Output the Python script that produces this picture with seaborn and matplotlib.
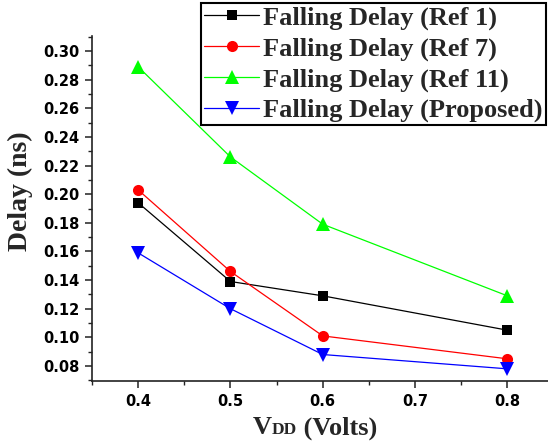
import matplotlib
matplotlib.use("Agg")
import matplotlib.pyplot as plt
from matplotlib.offsetbox import TextArea, HPacker, AnchoredOffsetbox
from matplotlib.ticker import MultipleLocator, FormatStrFormatter
import pandas as pd
import seaborn as sns

# Supply voltages and measured falling delays (ns)
vdd = [0.4, 0.5, 0.6, 0.8]
ref1 = [0.194, 0.139, 0.129, 0.105]
ref7 = [0.203, 0.146, 0.101, 0.085]
ref11 = [0.289, 0.226, 0.179, 0.129]
proposed = [0.159, 0.120, 0.088, 0.078]

series_names = [
    "Falling Delay (Ref 1)",
    "Falling Delay (Ref 7)",
    "Falling Delay (Ref 11)",
    "Falling Delay (Proposed)",
]
series_values = [ref1, ref7, ref11, proposed]
colors = ["#000000", "#ff0000", "#00ff00", "#0000ff"]
markers = ["s", "o", "^", "v"]
marker_sizes = [7.5, 8.0, 10.0, 10.0]

df = pd.DataFrame(
    [(v, d, name) for name, vals in zip(series_names, series_values) for v, d in zip(vdd, vals)],
    columns=["vdd", "delay", "series"],
)

sns.set_theme(style="ticks")
plt.rcParams["font.family"] = ["DejaVu Sans"]

fig = plt.figure(figsize=(5.48, 4.47), dpi=100)
W, H = 548, 447
ax = fig.add_axes([92 / W, 66 / H, 461.5 / W, 345 / H])

sns.lineplot(
    data=df, x="vdd", y="delay", hue="series", style="series",
    hue_order=series_names, style_order=series_names,
    palette=colors, markers=markers, dashes=False,
    linewidth=0.9, markersize=9, markeredgewidth=0,
    ax=ax, legend=False,
)

# per-series marker size (triangles drawn a bit larger than squares/circles)
for line, ms in zip(ax.get_lines(), marker_sizes):
    line.set_markersize(ms)

ax.set_xlim(0.35, 0.85)
ax.set_ylim(0.0695, 0.3105)
ax.set_xticks([0.4, 0.5, 0.6, 0.7, 0.8])
ax.set_xticklabels(["0.4", "0.5", "0.6", "0.7", "0.8"])
ax.xaxis.set_minor_locator(MultipleLocator(0.05))
ax.yaxis.set_major_locator(MultipleLocator(0.02))
ax.yaxis.set_minor_locator(MultipleLocator(0.01))
ax.yaxis.set_major_formatter(FormatStrFormatter("%.2f"))

for side in ("top", "right"):
    ax.spines[side].set_visible(False)
for side in ("left", "bottom"):
    ax.spines[side].set_linewidth(1.2)
    ax.spines[side].set_color("#222222")

ax.tick_params(which="major", direction="out", length=5, width=1.1, colors="#222222",
               labelsize=10.5, labelcolor="black", pad=4)
ax.tick_params(which="minor", direction="out", length=3, width=1.0, colors="#222222")
ax.tick_params(axis="x", pad=4)
for lbl in ax.get_xticklabels() + ax.get_yticklabels():
    lbl.set_fontweight("bold")

ax.set_xlabel("")
ax.set_ylabel("Delay (ns)", fontsize=20, fontweight="bold", family="Liberation Serif")
ax.yaxis.set_label_coords(-0.128, 0.55)

# x label with small-cap style "DD"
serif_bold = dict(fontweight="bold", family="Liberation Serif")
parts = [
    TextArea("V", textprops=dict(fontsize=19, **serif_bold)),
    TextArea("DD", textprops=dict(fontsize=12.5, **serif_bold)),
    TextArea(" (Volts)", textprops=dict(fontsize=19, **serif_bold)),
]
box = HPacker(children=parts, align="baseline", pad=0, sep=0)
anchored = AnchoredOffsetbox(loc="center", child=box, frameon=False, pad=0,
                             bbox_to_anchor=(315 / W, 1 - 428 / H),
                             bbox_transform=fig.transFigure, borderpad=0)
fig.add_artist(anchored)

leg = ax.legend(
    ax.get_lines(), series_names, loc="upper right",
    bbox_to_anchor=(546 / W, 1 - 3 / H), bbox_transform=fig.transFigure,
    prop=dict(family="Liberation Serif", weight="bold", size=19),
    frameon=True, fancybox=False, edgecolor="black", framealpha=1,
    handlelength=2.08, handletextpad=0.15, labelspacing=0.26,
    borderpad=0.12, borderaxespad=0,
)
leg.get_frame().set_linewidth(1.5)

fig.savefig("out.png", dpi=100)
